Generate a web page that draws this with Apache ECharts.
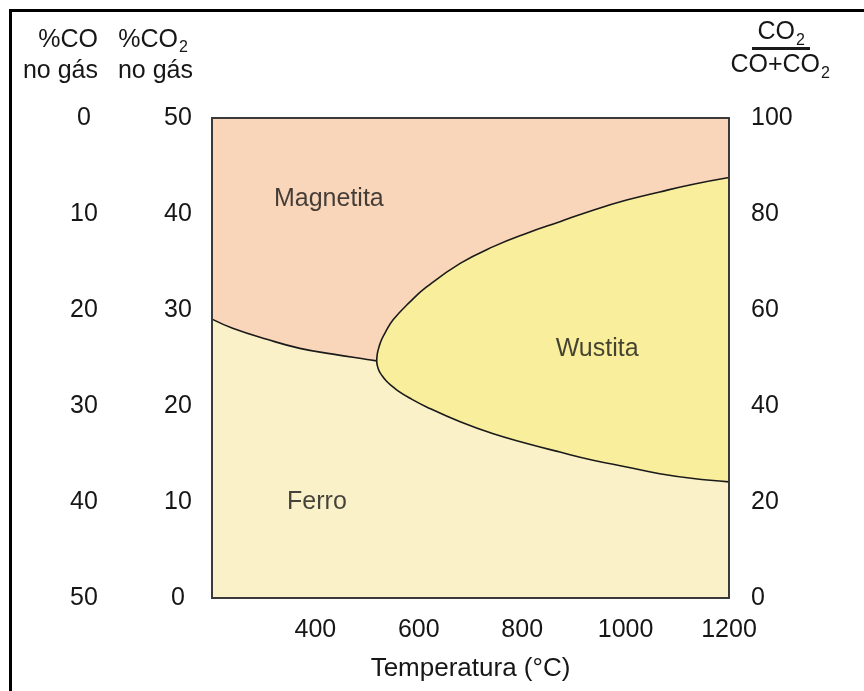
<!DOCTYPE html>
<html>
<head>
<meta charset="utf-8">
<title>Diagrama Fe–O–C</title>
<script src="https://cdn.jsdelivr.net/npm/echarts@6/dist/echarts.min.js"></script>
<style>
  html, body { margin: 0; padding: 0; background: #ffffff; }
  #chart { width: 864px; height: 691px; }
</style>
</head>
<body>
<div id="chart"></div>
<script>
// Temperature axis (°C) and gas composition scales
const tempTicks = [400, 600, 800, 1000, 1200];
const coTicks = [0, 10, 20, 30, 40, 50];          // %CO no gás (top → bottom)
const co2Ticks = [0, 10, 20, 30, 40, 50];         // %CO2 no gás
const ratioTicks = [0, 20, 40, 60, 80, 100];      // CO2/(CO+CO2) × 100

// Magnetita / Ferro equilibrium line, up to the triple point
const magnetitaFerro = [
  [200, 58.1], [240, 56.2], [306, 53.9], [370, 52.0],
  [434, 50.8], [500, 49.7], [518.6, 49.4]
];

// Magnetita / Wustita boundary (upper branch)
const magnetitaWustita = [
  [518.6, 49.4], [519.8, 50.9], [523.0, 52.3], [527.9, 53.8], [534.5, 55.2],
  [550.7, 58.0], [583, 61.7], [615, 64.8], [680, 69.7], [744, 73.2],
  [809, 76.0], [873, 78.4], [937, 80.8], [1002, 82.9], [1066, 84.6],
  [1131, 86.2], [1200, 87.6]
];

// Wustita / Ferro boundary (lower branch)
const wustitaFerro = [
  [518.6, 49.4], [519.8, 48.4], [523.2, 47.3], [529.0, 46.3], [537.2, 45.2],
  [547.6, 44.2], [560.4, 43.1], [583, 41.6], [615, 39.8], [680, 36.7],
  [744, 34.2], [809, 32.2], [873, 30.4], [937, 28.7], [1002, 27.3],
  [1066, 25.9], [1131, 24.9], [1200, 24.2]
];

// Phase field names and where they are written (°C, ratio)
const phaseNames = ['Magnetita', 'Wustita', 'Ferro'];
const phaseSpots = [[426, 83.1], [945, 51.8], [403, 19.9]];

const COL_MAGNETITA = '#f9d5b9';
const COL_WUSTITA = '#f9ee9b';
const COL_FERRO = '#faf1c9';
const INK = '#161616';
const FONT = 'Liberation Sans, Arial, sans-serif';
const FS = 25;
const FS_SUB = 16;

const G = { left: 212, top: 118, width: 517, height: 480 };

const chart = echarts.init(document.getElementById('chart'), null, { renderer: 'canvas' });

// Lower envelope of the Magnetita field: Ferro lies beneath it everywhere
const ferroTop = magnetitaFerro.concat(wustitaFerro.slice(1));

function curve(name, data, opts) {
  return Object.assign({
    name: name,
    type: 'line',
    yAxisIndex: 2,
    data: data,
    smooth: 0.45,
    symbol: 'none',
    silent: true,
    lineStyle: { color: '#1a1a1a', width: 1.6 }
  }, opts);
}

const option = {
  animation: false,
  backgroundColor: '#ffffff',
  textStyle: { fontFamily: FONT },
  grid: {
    left: G.left, top: G.top, width: G.width, height: G.height,
    show: true, backgroundColor: COL_MAGNETITA, borderWidth: 0
  },
  xAxis: {
    type: 'value', min: 200, max: 1200, interval: 200,
    name: 'Temperatura (°C)', nameLocation: 'middle', nameGap: 58,
    nameTextStyle: { fontSize: 26, color: INK, fontFamily: FONT },
    axisLine: { show: false }, axisTick: { show: false }, splitLine: { show: false },
    axisLabel: {
      fontSize: FS, color: INK, fontFamily: FONT, margin: 20,
      formatter: v => (tempTicks.indexOf(v) >= 0 ? String(v) : '')
    }
  },
  yAxis: [
    {
      type: 'value', min: 0, max: 50, interval: 10, inverse: true, position: 'left',
      axisLine: { show: false }, axisTick: { show: false }, splitLine: { show: false },
      axisLabel: {
        fontSize: FS, color: INK, fontFamily: FONT, align: 'center', margin: 128,
        formatter: v => (coTicks.indexOf(v) >= 0 ? String(v) : '')
      }
    },
    {
      type: 'value', min: 0, max: 50, interval: 10, position: 'left',
      axisLine: { show: false }, axisTick: { show: false }, splitLine: { show: false },
      axisLabel: {
        fontSize: FS, color: INK, fontFamily: FONT, align: 'center', margin: 34,
        formatter: v => (co2Ticks.indexOf(v) >= 0 ? String(v) : '')
      }
    },
    {
      type: 'value', min: 0, max: 100, interval: 20, position: 'right',
      axisLine: { show: false }, axisTick: { show: false }, splitLine: { show: false },
      axisLabel: {
        fontSize: FS, color: INK, fontFamily: FONT, align: 'left', margin: 22,
        formatter: v => (ratioTicks.indexOf(v) >= 0 ? String(v) : '')
      }
    }
  ],
  series: [
    // Wustita field: everything under the upper branch, right of the triple point
    curve('Magnetita / Wustita', magnetitaWustita, {
      areaStyle: { color: COL_WUSTITA, opacity: 1, origin: 'start' }
    }),
    // Ferro field: everything under the lower envelope
    curve('Ferro', ferroTop, {
      lineStyle: { opacity: 0 },
      areaStyle: { color: COL_FERRO, opacity: 1, origin: 'start' }
    }),
    curve('Magnetita / Ferro', magnetitaFerro, {}),
    curve('Wustita / Ferro', wustitaFerro, {}),
    {
      name: 'Fases',
      type: 'scatter',
      yAxisIndex: 2,
      symbolSize: 0,
      silent: true,
      z: 5,
      data: phaseSpots.map((p, i) => ({ value: p, name: phaseNames[i] })),
      label: {
        show: true, position: 'inside', formatter: '{b}',
        fontSize: FS, color: INK, fontFamily: FONT
      }
    }
  ],
  graphic: [
    // outer frame (top and left rules)
    { type: 'line', shape: { x1: 10, y1: 10.5, x2: 864, y2: 10.5 }, style: { stroke: '#000', lineWidth: 3 } },
    { type: 'line', shape: { x1: 10.5, y1: 9, x2: 10.5, y2: 691 }, style: { stroke: '#000', lineWidth: 3 } },
    // plot frame
    {
      type: 'rect', z: 10,
      shape: { x: G.left, y: G.top, width: G.width, height: G.height },
      style: { fill: 'none', stroke: '#3a3a3a', lineWidth: 2 }
    },
    // %CO header
    { type: 'text', z: 10, style: { text: '%CO', x: 98, y: 40, textAlign: 'right', textVerticalAlign: 'middle', fontSize: FS, fontFamily: FONT, fill: INK } },
    { type: 'text', z: 10, style: { text: 'no gás', x: 98, y: 71, textAlign: 'right', textVerticalAlign: 'middle', fontSize: FS, fontFamily: FONT, fill: INK } },
    // %CO2 header
    { type: 'text', z: 10, style: { text: '%CO', x: 178, y: 40, textAlign: 'right', textVerticalAlign: 'middle', fontSize: FS, fontFamily: FONT, fill: INK } },
    { type: 'text', z: 10, style: { text: '2', x: 179, y: 48, textAlign: 'left', textVerticalAlign: 'middle', fontSize: FS_SUB, fontFamily: FONT, fill: INK } },
    { type: 'text', z: 10, style: { text: 'no gás', x: 193, y: 71, textAlign: 'right', textVerticalAlign: 'middle', fontSize: FS, fontFamily: FONT, fill: INK } },
    // CO2 / (CO + CO2) header
    { type: 'text', z: 10, style: { text: 'CO', x: 795, y: 32, textAlign: 'right', textVerticalAlign: 'middle', fontSize: FS, fontFamily: FONT, fill: INK } },
    { type: 'text', z: 10, style: { text: '2', x: 796, y: 41, textAlign: 'left', textVerticalAlign: 'middle', fontSize: FS_SUB, fontFamily: FONT, fill: INK } },
    { type: 'line', z: 10, shape: { x1: 752, y1: 48.5, x2: 810, y2: 48.5 }, style: { stroke: '#1a1a1a', lineWidth: 3 } },
    { type: 'text', z: 10, style: { text: 'CO+CO', x: 820, y: 65, textAlign: 'right', textVerticalAlign: 'middle', fontSize: FS, fontFamily: FONT, fill: INK } },
    { type: 'text', z: 10, style: { text: '2', x: 821, y: 74, textAlign: 'left', textVerticalAlign: 'middle', fontSize: FS_SUB, fontFamily: FONT, fill: INK } }
  ]
};

chart.setOption(option);
</script>
</body>
</html>
